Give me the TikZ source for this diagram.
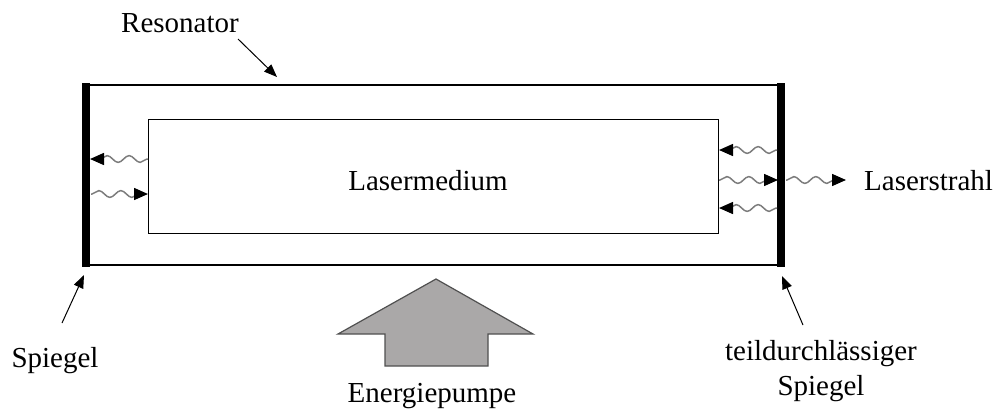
\documentclass[tikz,border=0pt]{standalone}
\usepackage{fontspec}
\setmainfont{Liberation Serif}
\usetikzlibrary{arrows.meta,decorations.pathmorphing}
\definecolor{wavegray}{RGB}{125,125,125}
\definecolor{pumpfill}{RGB}{170,168,168}
\definecolor{pumpline}{RGB}{80,80,80}
\tikzset{
  lbl/.style={font=\fontsize{29}{34}\selectfont, inner sep=0pt, anchor=base},
  pointer/.style={line width=1pt, -{Triangle[length=13pt,width=10pt]}},
  wave/.style={wavegray, line width=1.5pt,
    decoration={snake, amplitude=3.4pt, segment length=22pt, post length=2pt, pre length=1pt},
    decorate, -{Triangle[length=14pt,width=12pt,color=black]}},
  mirror/.style={line width=8pt},
}
\begin{document}
\begin{tikzpicture}[x=1pt,y=-1pt]
\useasboundingbox (0,0) rectangle (998,408);
% resonator
\draw[line width=2.8pt] (86,85) rectangle (781,265);
\draw[mirror] (86,83) -- (86,267);
\draw[mirror] (781,83) -- (781,267);
% laser medium
\node[draw, line width=1pt, minimum width=570pt, minimum height=114pt, inner sep=0pt] (med) at (433,176) {};
\node[lbl] (medtext) at (428,190) {Lasermedium};
% waves left
\coordinate (l1a) at (148,159); \coordinate (l1b) at (90,159);
\coordinate (l2a) at (91,194);  \coordinate (l2b) at (148,194);
\draw[wave] (l1a) -- (l1b);
\draw[wave] (l2a) -- (l2b);
% waves right
\coordinate (r1a) at (777,150); \coordinate (r1b) at (719,150);
\coordinate (r2a) at (719,180); \coordinate (r2b) at (778,180);
\coordinate (r3a) at (777,208); \coordinate (r3b) at (719,208);
\coordinate (oa) at (786,180);  \coordinate (ob) at (846,180);
\draw[wave] (r1a) -- (r1b);
\draw[wave] (r2a) -- (r2b);
\draw[wave] (r3a) -- (r3b);
\draw[wave] (oa) -- (ob);
\node[lbl, anchor=base west] (strahl) at (864,190) {Laserstrahl};
% labels with pointers
\node[lbl] (reso) at (180,32) {Resonator};
\coordinate (resoT) at (238,39); \coordinate (resoH) at (277,77);
\draw[pointer] (resoT) -- (resoH);
\node[lbl] (spl) at (55,367) {Spiegel};
\coordinate (splT) at (62,323); \coordinate (splH) at (84,275);
\draw[pointer] (splT) -- (splH);
\node[lbl] (spr1) at (821,360) {teildurchlässiger};
\node[lbl] (spr2) at (821,395) {Spiegel};
\coordinate (sprT) at (803,325); \coordinate (sprH) at (782,276);
\draw[pointer] (sprT) -- (sprH);
% pump
\draw[pumpline, fill=pumpfill, line width=1.2pt, line join=miter]
  (436,279) -- (533,334) -- (488,334) -- (488,366) -- (385,366) -- (385,334) -- (338,334) -- cycle;
\node[lbl] (pump) at (432,402) {Energiepumpe};
\end{tikzpicture}
\end{document}
